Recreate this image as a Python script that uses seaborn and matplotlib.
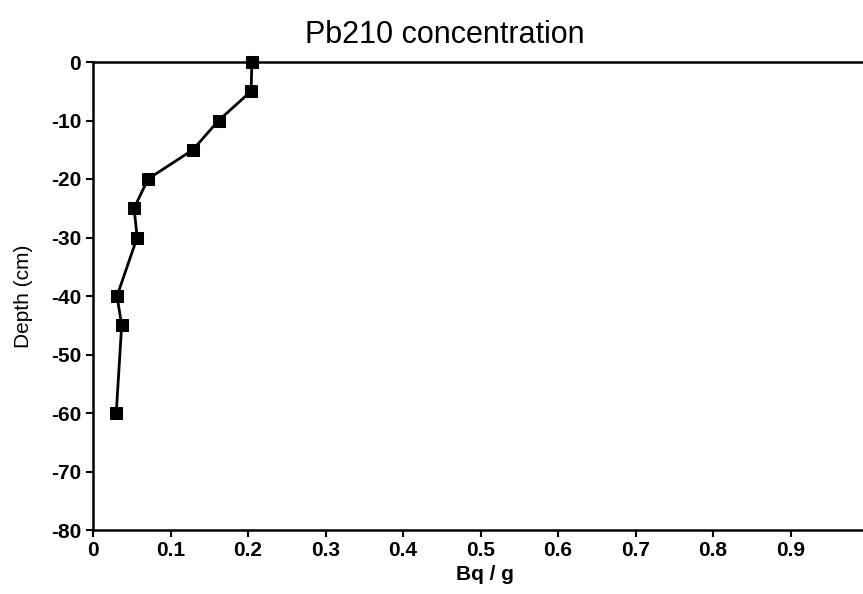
import numpy as np
import pandas as pd
import matplotlib
matplotlib.use("Agg")
import matplotlib.pyplot as plt
import seaborn as sns

# Pb210 activity profile
depth = [0, -5, -10, -15, -20, -25, -30, -40, -45, -60]
conc = [0.205, 0.204, 0.162, 0.129, 0.071, 0.053, 0.057, 0.031, 0.037, 0.030]

x_ticks = [0, 0.1, 0.2, 0.3, 0.4, 0.5, 0.6, 0.7, 0.8, 0.9]
x_tick_labels = ["0", "0.1", "0.2", "0.3", "0.4", "0.5", "0.6", "0.7", "0.8", "0.9"]
y_ticks = [0, -10, -20, -30, -40, -50, -60, -70, -80]
y_tick_labels = ["0", "-10", "-20", "-30", "-40", "-50", "-60", "-70", "-80"]

sns.set_theme(style="ticks")
plt.rcParams["font.family"] = ["Liberation Sans", "DejaVu Sans"]
plt.rcParams["text.color"] = "black"
plt.rcParams["axes.labelcolor"] = "black"

df = pd.DataFrame({"Bq / g": conc, "Depth (cm)": depth})

fig = plt.figure(figsize=(8.63, 5.94), dpi=100)
ax = fig.add_axes([93 / 863, 1 - 530 / 594, 775 / 863, 468 / 594])

sns.lineplot(data=df, x="Bq / g", y="Depth (cm)", sort=False, ax=ax,
             color="black", linewidth=2, marker="s", markersize=9,
             markeredgecolor="black", markerfacecolor="black", clip_on=False)

ax.set_xlim(0, 1.0)
ax.set_ylim(-80, 0)
ax.set_xticks(x_ticks)
ax.set_xticklabels(x_tick_labels)
ax.set_yticks(y_ticks)
ax.set_yticklabels(y_tick_labels)
ax.tick_params(axis="both", direction="out", length=5, width=1.5,
               colors="black", labelsize=15)
ax.tick_params(axis="x", pad=3)
for lab in ax.get_xticklabels() + ax.get_yticklabels():
    lab.set_fontweight("bold")

for side in ["left", "bottom", "top"]:
    ax.spines[side].set_linewidth(1.8)
    ax.spines[side].set_color("black")
ax.spines["right"].set_visible(False)

ax.set_xlabel("Bq / g", fontsize=15, fontweight="bold")
ax.set_ylabel("Depth (cm)", fontsize=15)
ax.xaxis.set_label_coords(392 / 775, -35 / 468)
ax.yaxis.set_label_coords(-60 / 775, 0.5)

fig.text(445 / 863, 1 - 35 / 594, "Pb210 concentration", ha="center",
         va="center", fontsize=22)

fig.savefig("out.png", dpi=100)
